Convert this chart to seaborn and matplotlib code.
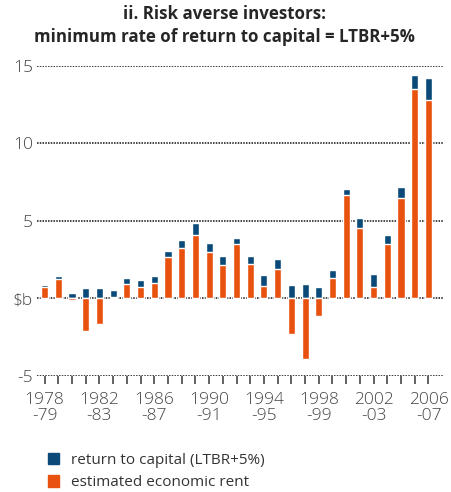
import numpy as np
import pandas as pd
import matplotlib
matplotlib.use("Agg")
import matplotlib.pyplot as plt
import seaborn as sns

# financial years 1978-79 .. 2006-07
years = [f"{y}-{str(y + 1)[-2:]}" for y in range(1978, 2007)]

# $b
rent = [0.71, 1.23, -0.13, -2.13, -1.68, 0.09, 0.90, 0.71, 0.97, 2.65,
        3.22, 4.12, 2.97, 2.13, 3.48, 2.19, 0.77, 1.87, -2.32, -3.94,
        -1.16, 1.29, 6.65, 4.52, 0.71, 3.48, 6.45, 13.48, 12.77]
capital = [0.13, 0.19, 0.32, 0.65, 0.65, 0.43, 0.39, 0.45, 0.45, 0.38,
           0.58, 0.77, 0.58, 0.58, 0.39, 0.52, 0.71, 0.65, 0.84, 0.90,
           0.71, 0.52, 0.38, 0.64, 0.84, 0.58, 0.71, 0.91, 1.42]

xtick_labels = ["1978\n-79", "1982\n-83", "1986\n-87", "1990\n-91",
                "1994\n-95", "1998\n-99", "2002\n-03", "2006\n-07"]
yticks = [-5, 0, 5, 10, 15]
ytick_labels = ["-5", "$b", "5", "10", "15"]

blue = "#0b4a78"
orange = "#e8520e"

df = pd.DataFrame({"year": years, "rent": rent, "capital": capital})
# top of blue segment: sits on the rent bar when rent is positive, else on zero
df["top"] = df["rent"].clip(lower=0) + df["capital"]

sns.set_style("white")
plt.rcParams["font.family"] = ["Open Sans", "DejaVu Sans"]

fig = plt.figure(figsize=(4.51, 4.92), dpi=100)
ax = fig.add_axes([0.082, 0.236, 0.90, 0.63])

sns.barplot(data=df, x="year", y="top", color=blue, width=0.52,
            saturation=1, ax=ax, zorder=3)
sns.barplot(data=df, x="year", y="rent", color=orange, width=0.52,
            saturation=1, ax=ax, zorder=3)

ax.set_ylim(-5, 15)
ax.set_xlim(-0.55, 29.05)
for v in yticks:
    ax.axhline(v, color="#111111", lw=1.1, ls=(0, (1.0, 0.8)), zorder=1)

for s in ax.spines.values():
    s.set_visible(False)

ax.set_yticks(yticks)
ax.set_yticklabels(ytick_labels, fontsize=12.5, color="#444444",
                   fontweight="light")
ax.tick_params(axis="y", length=0, pad=3)

ax.set_xticks(range(len(years)))
ax.set_xticklabels(["" for _ in years])
ax.tick_params(axis="x", bottom=True, length=6, width=1.3,
               color="#555555", pad=2)
for i, lab in zip(range(0, len(years), 4), xtick_labels):
    ax.text(i, -6.05, lab, ha="center", va="top", fontsize=12.5,
            color="#444444", linespacing=1.0, fontweight="light")
ax.set_xlabel("")
ax.set_ylabel("")

fig.text(0.497, 0.99, "ii. Risk averse investors:\nminimum rate of return to capital = LTBR+5%",
         ha="center", va="top", fontsize=12.2, fontweight="bold",
         linespacing=1.35)

# legend
handles = [plt.Rectangle((0, 0), 1, 1, color=blue),
           plt.Rectangle((0, 0), 1, 1, color=orange)]
fig.legend(handles, ["return to capital (LTBR+5%)", "estimated economic rent"],
           loc="upper left", bbox_to_anchor=(0.106, 0.08), frameon=False,
           fontsize=11, handlelength=0.75, handleheight=0.75, handletextpad=0.8,
           labelspacing=0.5, labelcolor="#333333", borderaxespad=0,
           borderpad=0)

fig.savefig("out.png", dpi=100)
